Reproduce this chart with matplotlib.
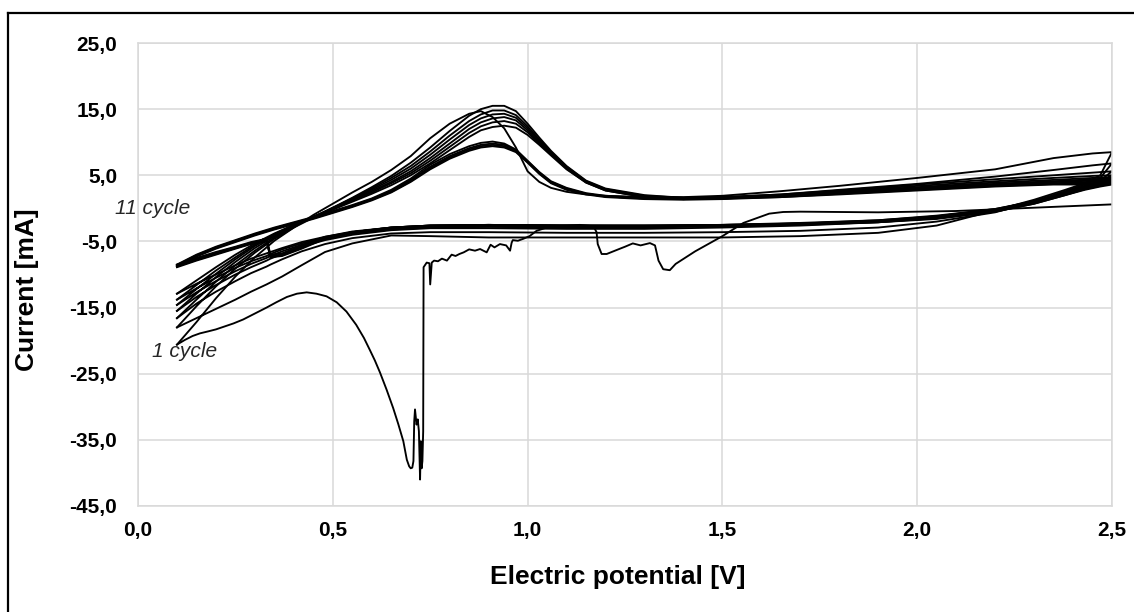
import numpy as np
import matplotlib
matplotlib.use("Agg")
import matplotlib.pyplot as plt
from matplotlib.lines import Line2D
from matplotlib.ticker import FuncFormatter

plt.rcParams['font.family'] = ['Liberation Sans', 'DejaVu Sans']

# potential grids shared by all cycles (V)
fwd_v = [0.10, 0.15, 0.20, 0.25, 0.30, 0.35, 0.40, 0.45, 0.50, 0.55, 0.60, 0.65,
         0.70, 0.75, 0.80, 0.85, 0.88, 0.91, 0.94, 0.97, 1.00, 1.03, 1.06, 1.10,
         1.15, 1.20, 1.30, 1.40, 1.50, 1.65, 1.80, 2.00, 2.20, 2.35, 2.45, 2.50]
rev_v = [2.50, 2.47, 2.43, 2.38, 2.30, 2.20, 2.05, 1.90, 1.70, 1.50, 1.30, 1.10,
         0.90, 0.75, 0.65, 0.55, 0.48, 0.42, 0.37, 0.34, 0.33, 0.29, 0.25, 0.20,
         0.15, 0.10]

# forward sweeps, current in mA (cycle 1 .. 11)
fwd_i = [
    [-20.6, -17.2, -13.6, -10.3, -7.4, -4.9, -2.9, -1.0, 0.7, 2.4, 4.0, 5.8,
     7.9, 10.6, 12.8, 14.3, 14.7, 13.8, 12.1, 9.2, 5.6, 4.0, 3.1, 2.5,
     2.1, 1.9, 1.7, 1.7, 1.9, 2.6, 3.4, 4.6, 5.9, 7.6, 8.3, 8.5],
    [-18.0, -14.8, -11.8, -9.1, -6.7, -4.6, -2.9, -1.4, 0.1, 1.6, 3.2, 4.9,
     6.9, 9.2, 11.7, 14.0, 15.0, 15.5, 15.5, 14.7, 12.8, 10.7, 8.7, 6.4,
     4.2, 3.0, 2.0, 1.6, 1.7, 2.1, 2.8, 3.7, 4.8, 5.8, 6.5, 6.8],
    [-16.6, -13.8, -11.1, -8.6, -6.4, -4.4, -2.8, -1.3, 0.1, 1.5, 3.0, 4.6,
     6.4, 8.6, 11.0, 13.2, 14.2, 14.8, 14.8, 14.1, 12.4, 10.4, 8.5, 6.3,
     4.1, 2.9, 1.9, 1.6, 1.7, 2.1, 2.7, 3.6, 4.4, 5.0, 5.4, 5.6],
    [-15.5, -12.9, -10.4, -8.1, -6.0, -4.2, -2.7, -1.3, 0.0, 1.4, 2.8, 4.3,
     6.0, 8.1, 10.4, 12.6, 13.6, 14.2, 14.3, 13.7, 12.1, 10.2, 8.4, 6.2,
     4.0, 2.8, 1.8, 1.5, 1.6, 2.0, 2.6, 3.4, 4.1, 4.6, 4.9, 5.0],
    [-14.6, -12.2, -9.9, -7.7, -5.7, -4.0, -2.6, -1.3, 0.0, 1.3, 2.6, 4.0,
     5.6, 7.6, 9.8, 12.0, 13.0, 13.6, 13.8, 13.3, 11.8, 10.0, 8.3, 6.1,
     4.0, 2.8, 1.8, 1.5, 1.6, 1.9, 2.5, 3.2, 3.9, 4.3, 4.6, 4.7],
    [-13.8, -11.6, -9.4, -7.4, -5.5, -3.9, -2.5, -1.3, -0.1, 1.2, 2.4, 3.8,
     5.3, 7.2, 9.3, 11.4, 12.4, 13.0, 13.2, 12.8, 11.5, 9.8, 8.2, 6.0,
     3.9, 2.7, 1.7, 1.4, 1.5, 1.9, 2.4, 3.1, 3.7, 4.1, 4.4, 4.5],
    [-12.9, -10.9, -8.9, -7.0, -5.3, -3.8, -2.5, -1.3, -0.2, 1.0, 2.2, 3.5,
     5.0, 6.8, 8.8, 10.8, 11.8, 12.3, 12.5, 12.2, 11.1, 9.6, 8.0, 5.9,
     3.9, 2.7, 1.7, 1.4, 1.5, 1.8, 2.3, 3.0, 3.6, 4.0, 4.2, 4.3],
    [-8.5, -7.0, -5.8, -4.8, -3.8, -2.9, -2.1, -1.3, -0.4, 0.5, 1.5, 2.8,
     4.5, 6.6, 8.2, 9.4, 9.9, 10.1, 9.8, 8.9, 7.2, 5.5, 4.1, 3.1,
     2.3, 1.9, 1.6, 1.5, 1.6, 1.9, 2.4, 3.0, 3.6, 4.0, 4.2, 4.2],
    [-8.6, -7.1, -5.9, -4.9, -3.9, -3.0, -2.2, -1.4, -0.5, 0.4, 1.4, 2.6,
     4.3, 6.3, 7.9, 9.1, 9.6, 9.8, 9.6, 8.8, 7.1, 5.4, 4.0, 3.0,
     2.2, 1.8, 1.5, 1.4, 1.5, 1.8, 2.3, 2.9, 3.5, 3.8, 4.0, 4.0],
    [-8.7, -7.2, -6.0, -5.0, -4.0, -3.1, -2.3, -1.5, -0.6, 0.3, 1.3, 2.5,
     4.1, 6.1, 7.7, 8.9, 9.4, 9.6, 9.4, 8.6, 7.0, 5.3, 3.9, 2.9,
     2.2, 1.8, 1.5, 1.4, 1.5, 1.7, 2.2, 2.8, 3.4, 3.7, 3.8, 3.8],
    [-8.8, -7.3, -6.1, -5.1, -4.1, -3.2, -2.4, -1.6, -0.7, 0.2, 1.2, 2.4,
     4.0, 5.9, 7.5, 8.7, 9.2, 9.4, 9.2, 8.5, 6.9, 5.2, 3.8, 2.8,
     2.1, 1.7, 1.4, 1.3, 1.4, 1.7, 2.1, 2.7, 3.3, 3.6, 3.6, 3.6],
]

# reverse sweeps, current in mA (cycle 1 .. 11)
rev_i = [
    [8.5, 5.0, 3.8, 2.8, 1.3, -0.3, -2.6, -3.7, -4.2, -4.4, -4.4, -4.4,
     -4.4, -4.2, -4.1, -5.3, -6.6, -8.6, -10.3, -11.2, -11.5, -12.6, -13.8, -15.2,
     -16.6, -18.0],
    [6.8, 4.6, 3.6, 2.6, 1.0, -0.6, -2.0, -2.9, -3.4, -3.6, -3.7, -3.7,
     -3.6, -3.6, -3.8, -4.5, -5.4, -6.5, -7.7, -8.5, -8.8, -9.8, -11.0, -12.6,
     -14.4, -16.6],
    [5.6, 4.2, 3.4, 2.5, 1.1, -0.2, -1.4, -2.1, -2.6, -2.9, -3.1, -3.1,
     -3.0, -3.0, -3.3, -4.0, -4.8, -5.8, -6.9, -7.6, -7.9, -8.9, -10.0, -11.6,
     -13.4, -15.5],
    [5.0, 4.0, 3.3, 2.4, 1.1, -0.1, -1.2, -1.9, -2.4, -2.7, -2.9, -2.9,
     -2.8, -2.9, -3.2, -3.8, -4.6, -5.5, -6.5, -7.2, -7.5, -8.4, -9.5, -11.0,
     -12.7, -14.6],
    [4.7, 3.9, 3.2, 2.3, 1.0, -0.1, -1.1, -1.8, -2.3, -2.6, -2.8, -2.8,
     -2.7, -2.8, -3.1, -3.7, -4.4, -5.3, -6.2, -6.9, -7.2, -8.0, -9.0, -10.5,
     -12.1, -13.8],
    [4.5, 3.8, 3.1, 2.2, 0.9, -0.2, -1.2, -1.8, -2.2, -2.5, -2.7, -2.7,
     -2.6, -2.7, -3.0, -3.6, -4.3, -5.1, -6.0, -6.6, -6.8, -7.6, -8.6, -10.0,
     -11.4, -12.9],
    [4.3, 3.7, 3.0, 2.2, 0.9, -0.3, -1.3, -1.9, -2.3, -2.5, -2.6, -2.6,
     -2.5, -2.6, -2.9, -3.5, -4.3, -5.6, -6.8, -7.0, -4.6, -5.1, -5.8, -6.6,
     -7.5, -8.5],
    [4.2, 3.6, 3.0, 2.1, 0.8, -0.4, -1.4, -2.0, -2.3, -2.5, -2.6, -2.6,
     -2.5, -2.6, -2.9, -3.6, -4.4, -5.8, -7.0, -7.2, -4.7, -5.2, -5.9, -6.7,
     -7.6, -8.6],
    [4.0, 3.5, 2.9, 2.1, 0.8, -0.4, -1.5, -2.0, -2.4, -2.6, -2.6, -2.6,
     -2.5, -2.6, -2.9, -3.6, -4.5, -5.9, -7.1, -7.3, -4.8, -5.3, -6.0, -6.8,
     -7.7, -8.7],
    [3.8, 3.4, 2.9, 2.0, 0.7, -0.5, -1.5, -2.1, -2.4, -2.6, -2.7, -2.6,
     -2.5, -2.6, -2.9, -3.6, -4.5, -6.0, -7.1, -7.3, -4.9, -5.3, -6.0, -6.9,
     -7.8, -8.8],
    [3.6, 3.3, 2.8, 2.0, 0.7, -0.5, -1.6, -2.1, -2.5, -2.7, -2.7, -2.7,
     -2.6, -2.7, -3.0, -3.7, -4.6, -6.1, -7.2, -7.4, -5.0, -5.4, -6.1, -7.0,
     -7.9, -8.9],
]

# first (conditioning) sweep, 2.5 V down to 0.1 V
first_v = [2.50, 2.30, 2.10, 1.90, 1.70, 1.656, 1.62, 1.554, 1.50, 1.43, 1.38, 1.365,
           1.348, 1.336, 1.327, 1.314, 1.29, 1.27, 1.25, 1.237, 1.203, 1.19, 1.18,
           1.177, 1.169, 1.134, 1.10, 1.07, 1.049, 1.023, 1.005, 0.989, 0.975,
           0.962, 0.959, 0.955, 0.945, 0.929, 0.915, 0.905, 0.895, 0.878, 0.865,
           0.85, 0.836, 0.825, 0.815, 0.805, 0.793, 0.78, 0.77, 0.76, 0.754,
           0.750, 0.748, 0.741, 0.733, 0.732, 0.730, 0.728, 0.726, 0.724, 0.721,
           0.718, 0.715, 0.711, 0.709, 0.707, 0.704, 0.700, 0.696, 0.690, 0.681,
           0.668, 0.655, 0.638, 0.621, 0.608, 0.595, 0.58, 0.56, 0.535, 0.51,
           0.484, 0.458, 0.433, 0.408, 0.382, 0.355, 0.33, 0.30, 0.27, 0.245,
           0.22, 0.20, 0.18, 0.159, 0.14, 0.12, 0.10]
first_i = [0.6, 0.1, -0.4, -0.6, -0.5, -0.55, -0.8, -2.2, -4.2, -6.5, -8.4, -9.35,
           -9.2, -7.9, -5.6, -5.25, -5.6, -5.3, -5.8, -6.1, -6.9, -6.9, -5.4,
           -3.6, -2.7, -2.5, -2.6, -2.7, -2.9, -3.4, -4.2, -4.6, -4.9,
           -4.8, -5.2, -6.4, -5.6, -5.4, -5.9, -5.5, -6.65, -6.15, -6.4,
           -6.2, -6.65, -6.9, -7.2, -7.0, -7.9, -7.6, -8.0, -7.9, -8.2,
           -11.5, -8.3, -8.2, -8.9, -33.7, -38.2, -39.3, -35.2, -41.0, -33.7,
           -31.9, -32.7, -30.4, -32.2, -38.2, -39.2, -39.3, -39.0, -38.0, -35.2,
           -32.6, -30.2, -27.4, -24.8, -23.0, -21.4, -19.6, -17.6, -15.6, -14.2,
           -13.3, -12.9, -12.7, -12.9, -13.4, -14.2, -15.0, -15.9, -16.8, -17.4,
           -17.9, -18.3, -18.6, -18.9, -19.3, -19.9, -20.6]

y_ticks = [-45, -35, -25, -15, -5, 5, 15, 25]
x_ticks = [0.0, 0.5, 1.0, 1.5, 2.0, 2.5]

fig = plt.figure(figsize=(11.34, 6.12), dpi=100)
ax = fig.add_axes([138 / 1134, 1 - 506 / 612, (1112 - 138) / 1134, (506 - 43) / 612])

ax.plot(first_v, first_i, color='black', lw=1.35)
for f_i, r_i in zip(fwd_i, rev_i):
    ax.plot(fwd_v + rev_v, f_i + r_i, color='black', lw=1.35)

ax.set_xlim(0, 2.5)
ax.set_ylim(-45, 25)
ax.set_xticks(x_ticks)
ax.set_yticks(y_ticks)
comma = FuncFormatter(lambda v, p: f"{v:.1f}".replace('.', ','))
ax.xaxis.set_major_formatter(comma)
ax.yaxis.set_major_formatter(comma)
ax.tick_params(length=0, labelsize=15)
ax.tick_params(axis='y', pad=15)
ax.tick_params(axis='x', pad=11)
plt.setp(ax.get_xticklabels() + ax.get_yticklabels(), fontweight='bold')
ax.grid(True, color='#d9d9d9', lw=1.1)
ax.set_axisbelow(True)
for s in ax.spines.values():
    s.set_color('#d9d9d9')
    s.set_linewidth(1.1)

ax.text(-0.058, -0.05, '11 cycle', style='italic', fontsize=15, va='center', ha='left',
        color='#262626', clip_on=False)
ax.text(0.036, -21.6, '1 cycle', style='italic', fontsize=15, va='center', ha='left',
        color='#262626')

fig.text(618 / 1134, 1 - 577 / 612, 'Electric potential [V]', fontsize=19,
         fontweight='bold', ha='center', va='center')
fig.text(27 / 1134, 1 - 290 / 612, 'Current [mA]', fontsize=19, fontweight='bold',
         rotation=90, ha='center', va='center')

# outer chart frame
fig.add_artist(Line2D([8 / 1134, 8 / 1134], [0, 1 - 13 / 612], color='black', lw=1.6,
                      transform=fig.transFigure))
fig.add_artist(Line2D([8 / 1134, 1], [1 - 13 / 612, 1 - 13 / 612], color='black', lw=1.6,
                      transform=fig.transFigure))

fig.savefig('out.png', dpi=100)
